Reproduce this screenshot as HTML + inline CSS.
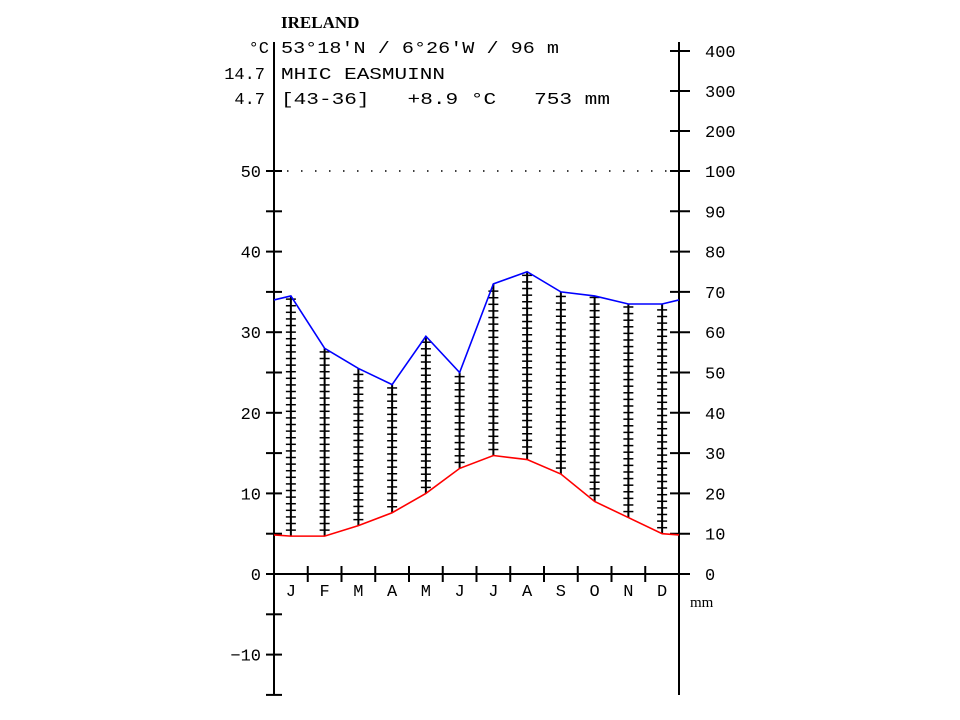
<!DOCTYPE html>
<html><head><meta charset="utf-8"><style>
html,body{margin:0;padding:0;background:#fff;width:960px;height:720px;overflow:hidden}
text{font-family:"Liberation Mono",monospace;font-size:17px;fill:#000;white-space:pre}
</style></head><body>
<svg id="chart" width="960" height="720" viewBox="0 0 960 720" xmlns="http://www.w3.org/2000/svg" xml:space="preserve">
<g id="header">
<text x="281" y="28" font-weight="bold" style="font-family:'Liberation Serif',serif;font-size:17px">IRELAND</text>
<text x="281" y="53" textLength="278" lengthAdjust="spacingAndGlyphs">53°18'N / 6°26'W / 96 m</text>
<text x="281" y="79" textLength="164" lengthAdjust="spacingAndGlyphs">MHIC EASMUINN</text>
<text x="281" y="104" textLength="329" lengthAdjust="spacingAndGlyphs">[43-36]   +8.9 °C   753 mm</text>
<text x="269" y="53" text-anchor="end">°C</text>
<text x="265" y="79" text-anchor="end">14.7</text>
<text x="265" y="104" text-anchor="end">4.7</text>
</g>
<g id="plot"></g>
</svg>
<script>
const months = ["J","F","M","A","M","J","J","A","S","O","N","D"];
const tempC = [4.7,4.7,6.0,7.6,10.0,13.1,14.7,14.2,12.4,9.0,7.0,5.0];
const precipMm = [69,56,51,47,59,50,72,75,70,69,67,67];
const leftTickLabels = [50,40,30,20,10,0,-10];
const rightTickLabels = [0,10,20,30,40,50,60,70,80,90,100];
const rightUpperLabels = [200,300,400];

const NS="http://www.w3.org/2000/svg";
const g=document.getElementById('plot');
const X0=274,X1=679,Y0=574,PX=(574-171)/50;
const mw=(X1-X0)/12;
const xM=i=>X0+mw*(i+0.5);
const yT=t=>Y0-t*PX;
const yP=p=>p<=100?yT(p/2):yT(50)-(p-100)/100*40;
function el(tag,attrs,name,parent){const e=document.createElementNS(NS,tag);for(const k in attrs)e.setAttribute(k,attrs[k]);


(parent||g).appendChild(e);return e;}
function txt(x,y,s,anchor,name){const e=el('text',{x:x,y:y,'text-anchor':anchor},name);e.textContent=s;return e;}

el('line',{x1:X0,y1:42,x2:X0,y2:695,stroke:'#000','stroke-width':2},'left-axis');
el('line',{x1:X1,y1:42,x2:X1,y2:695,stroke:'#000','stroke-width':2},'right-axis');
el('line',{x1:X0,y1:Y0,x2:X1,y2:Y0,stroke:'#000','stroke-width':2},'x-axis');
el('line',{x1:X0+13,y1:yT(50),x2:X1,y2:yT(50),stroke:'#000','stroke-width':1.5,'stroke-dasharray':'1.5 12.5'},'dotted-100mm-line');
for(let t=-15;t<=50;t+=5){el('line',{x1:266,y1:yT(t),x2:282,y2:yT(t),stroke:'#000','stroke-width':2},'left-tick');}
leftTickLabels.forEach(v=>txt(261,yT(v)+6,String(v).replace('-','−'),'end','left-tick-label'));
rightTickLabels.forEach(v=>{el('line',{x1:670,y1:yP(v),x2:690,y2:yP(v),stroke:'#000','stroke-width':2},'right-tick');txt(705,yP(v)+6,String(v),'start','right-tick-label');});
rightUpperLabels.forEach(v=>{el('line',{x1:670,y1:yP(v),x2:690,y2:yP(v),stroke:'#000','stroke-width':2},'right-tick');txt(705,yP(v)+6,String(v),'start','right-tick-label');});
const mm=txt(690,607,'mm','start','precip-unit');mm.setAttribute('style','font-family:"Liberation Serif",serif;font-size:15px');
for(let i=1;i<12;i++)el('line',{x1:X0+mw*i,y1:566,x2:X0+mw*i,y2:582,stroke:'#000','stroke-width':2},'month-tick');
months.forEach((m,i)=>txt(xM(i),596,m,'middle','month-label'));
months.forEach((m,i)=>{
 const yt=yT(tempC[i]),yp=yP(precipMm[i]);
 el('line',{x1:xM(i),y1:yt,x2:xM(i),y2:yp,stroke:'#000','stroke-width':2},'humid-bar-'+m);
 for(let y=yt-6;y>yp+1;y-=6.6)el('line',{x1:xM(i)-5,y1:y,x2:xM(i)+5,y2:y,stroke:'#000','stroke-width':1.5},'hatch-tick');
});
function series(vals,fy,color,name){
 const edge=(vals[0]+vals[11])/2;
 let pts=[[X0,fy(edge)]];vals.forEach((v,i)=>pts.push([xM(i),fy(v)]));pts.push([X1,fy(edge)]);
 el('polyline',{points:pts.map(p=>p.join(',')).join(' '),fill:'none',stroke:color,'stroke-width':1.6},name);
}
series(precipMm,yP,'#0000ff','precipitation-line');
series(tempC,yT,'#ff0000','temperature-line');
</script>
</body></html>
